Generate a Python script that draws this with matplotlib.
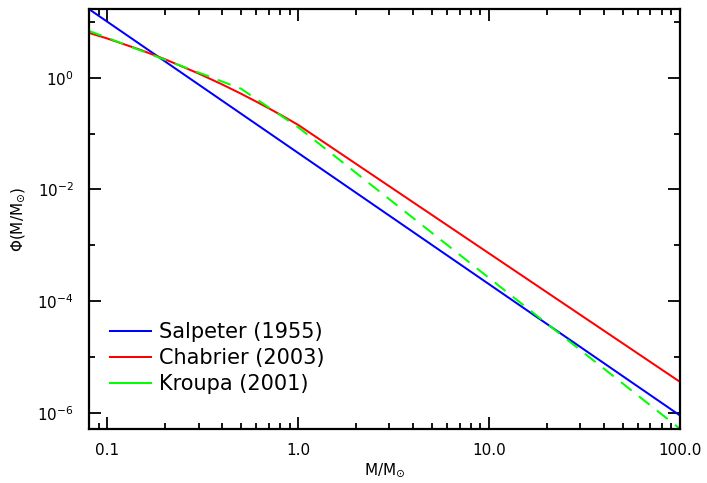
import matplotlib
matplotlib.use("Agg")
import matplotlib.pyplot as plt
from matplotlib.lines import Line2D
from matplotlib.ticker import FixedLocator, NullFormatter, FixedFormatter

# Salpeter (1955): straight power law
salpeter_m = [0.08, 100.0]
salpeter_phi = [16.9, 8.9e-7]

# Chabrier (2003): log-normal below 1 Msun, power law above
chabrier_m = [0.08, 0.1, 0.15, 0.2, 0.3, 0.4, 0.5, 0.6, 0.7, 0.8, 0.9, 1.0, 100.0]
chabrier_phi = [6.35, 5.02, 3.12, 2.14, 1.19, 0.754, 0.518, 0.375, 0.283, 0.220,
                0.175, 0.142, 3.56e-6]

# Kroupa (2001): broken power law
kroupa_m = [0.08, 0.5, 1.0, 100.0]
kroupa_phi = [6.90, 0.637, 0.129, 5.15e-7]

series_labels = ["Salpeter (1955)", "Chabrier (2003)", "Kroupa (2001)"]
series_colors = ["#0000ff", "#ff0000", "#00ff00"]

xtick_vals = [0.1, 1.0, 10.0, 100.0]
xtick_labels = ["0.1", "1.0", "10.0", "100.0"]
ytick_major = [1e-6, 1e-4, 1e-2, 1e0]
ytick_labels = [r"$10^{-6}$", r"$10^{-4}$", r"$10^{-2}$", r"$10^{0}$"]
ytick_minor = [1e-5, 1e-3, 1e-1, 1e1]

fig = plt.figure(figsize=(7.07, 4.83), dpi=100)
ax = fig.add_axes([89/707, 1-429/483, (680-89)/707, (429-9)/483])

lw = 1.45
ax.plot(salpeter_m, salpeter_phi, color=series_colors[0], lw=lw)
ax.plot(chabrier_m, chabrier_phi, color=series_colors[1], lw=lw)
ax.plot(kroupa_m, kroupa_phi, color=series_colors[2], lw=lw, dashes=(6.8, 4.6))

ax.set_xscale("log")
ax.set_yscale("log")
ax.set_xlim(0.08, 100.0)
ax.set_ylim(5.1e-7, 17.0)

xminor = []
for dec in [0.01, 0.1, 1.0, 10.0]:
    for k in range(2, 10):
        v = dec * k
        if 0.08 <= v <= 100 and v not in xtick_vals:
            xminor.append(v)
ax.xaxis.set_major_locator(FixedLocator(xtick_vals))
ax.xaxis.set_major_formatter(FixedFormatter(xtick_labels))
ax.xaxis.set_minor_locator(FixedLocator(xminor))
ax.xaxis.set_minor_formatter(NullFormatter())
ax.yaxis.set_major_locator(FixedLocator(ytick_major))
ax.yaxis.set_major_formatter(FixedFormatter(ytick_labels))
ax.yaxis.set_minor_locator(FixedLocator(ytick_minor))
ax.yaxis.set_minor_formatter(NullFormatter())

for s in ax.spines.values():
    s.set_linewidth(1.6)
ax.tick_params(which="both", direction="in", top=True, right=True, width=1.3,
               labelsize=11, colors="black")
ax.tick_params(which="major", length=8.5)
ax.tick_params(axis="x", which="minor", length=4)
ax.tick_params(axis="y", which="minor", length=4.5)
ax.tick_params(axis="x", which="major", pad=10)
ax.tick_params(axis="y", which="major", pad=11)

ax.set_xlabel(r"M/M$_{\odot}$", fontsize=11, labelpad=2)
ax.set_ylabel(r"$\Phi$(M/M$_{\odot}$)", fontsize=11, labelpad=7)

handles = [Line2D([], [], color=c, lw=lw) for c in series_colors]
leg = fig.legend(handles, series_labels, loc="upper left",
                 bbox_to_anchor=(110/707, 1-322/483), frameon=False,
                 fontsize=15, handlelength=1.95, handletextpad=0.4,
                 labelspacing=0.3, borderpad=0, borderaxespad=0)

fig.savefig("out.png", dpi=100)
